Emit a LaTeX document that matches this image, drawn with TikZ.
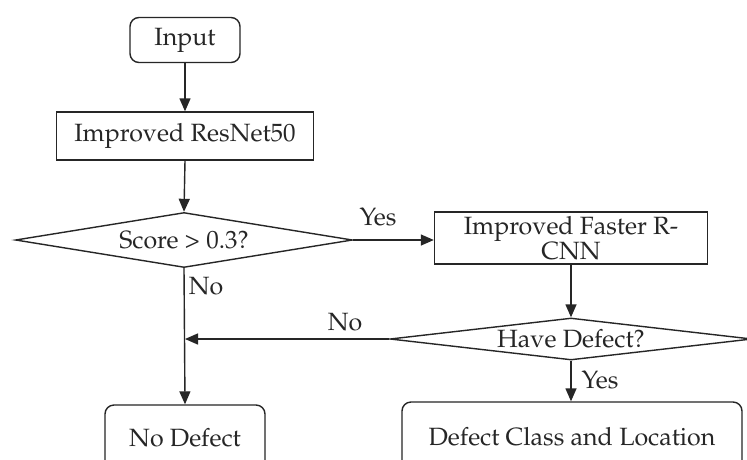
\documentclass[tikz,border=0pt]{standalone}
\usepackage[T1]{fontenc}
\usepackage{mathpazo}
\usetikzlibrary{shapes.geometric,arrows.meta}
\tikzset{
  ink/.style={draw=black!85, line width=1.4pt, text=black!85},
  txt/.style={font=\fontsize{25}{24}\selectfont},
  roundbox/.style={ink, txt, rectangle, rounded corners=9pt, inner sep=0pt},
  plainbox/.style={ink, txt, rectangle, inner sep=0pt},
  decision/.style={ink, txt, diamond, inner sep=0pt},
  flow/.style={draw=black!85, line width=1.4pt, -{Triangle[length=13pt,width=11pt]}},
  lbl/.style={txt, text=black!85, inner sep=0pt}
}
\begin{document}
\begin{tikzpicture}[x=1pt,y=-1pt]
\clip (0,0) rectangle (747,459);
\fill[white] (0,0) rectangle (747,459);
\node[roundbox, minimum width=110pt, minimum height=45pt] (input) at (185,40) {Input};
\node[plainbox, minimum width=257pt, minimum height=48pt] (resnet) at (185,136) {Improved ResNet50};
\node[decision, aspect=6, minimum width=337pt, minimum height=55pt] (score) at (184,240) {Score > 0.3?};
\node[plainbox, minimum width=273pt, minimum height=52pt, align=center] (faster) at (571,238) {Improved Faster R-\\CNN};
\node[decision, aspect=8.6, minimum width=362pt, minimum height=42pt] (defect) at (571,339) {Have Defect?};
\node[roundbox, minimum width=160pt, minimum height=66pt] (nodefect) at (185,438) {No Defect};
\node[roundbox, minimum width=340pt, minimum height=70pt] (dcl) at (572,437) {Defect Class and Location};
\coordinate (j) at (185,339);
\draw[flow] (input.south) -- (resnet.north);
\draw[flow] (resnet.south) -- (score.north);
\draw[flow] (score.east) -- (faster.west |- score.east);
\draw[flow] (faster.south) -- (defect.north);
\draw[flow] (defect.west) -- (j);
\draw[flow] (score.south) -- (nodefect.north);
\draw[flow] (defect.south) -- (dcl.north -| defect.south);
\node[lbl] (yes1) at (378,217) {Yes};
\node[lbl] (no1) at (206,286) {No};
\node[lbl] (no2) at (345,322) {No};
\node[lbl] (yes2) at (600,380) {Yes};
\end{tikzpicture}
\end{document}
